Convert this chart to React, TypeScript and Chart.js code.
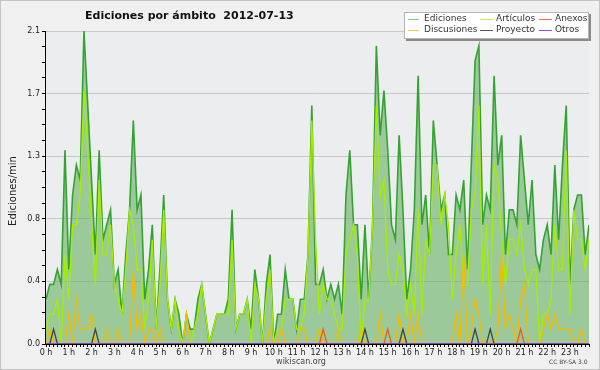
import React, { useEffect, useRef } from 'react';
import { Chart, registerables } from 'chart.js';

Chart.register(...registerables);

const TITLE = 'Ediciones por ámbito  2012-07-13';
const Y_LABEL = 'Ediciones/min';
const FOOTER = 'wikiscan.org';
const LICENSE = 'CC BY-SA 3.0';

const HOUR_LABELS = ['0 h', '1 h', '2 h', '3 h', '4 h', '5 h', '6 h', '7 h', '8 h', '9 h', '10 h', '11 h',
  '12 h', '13 h', '14 h', '15 h', '16 h', '17 h', '18 h', '19 h', '20 h', '21 h', '22 h', '23 h'];

const Y_MAJOR_TICKS = [0, 0.42, 0.84, 1.26, 1.68, 2.1];

// edits per minute, one value every 10 minutes (144 slots)
const EDICIONES = [
  0.3, 0.4, 0.4, 0.5, 0.4, 1.3, 0.5, 1.0, 1.2, 1.1, 2.1, 1.6,
  1.1, 0.6, 1.3, 0.7, 0.8, 0.9, 0.4, 0.5, 0.2, 0.6, 0.9, 1.5,
  0.9, 1.0, 0.3, 0.5, 0.8, 0.1, 0.5, 1.0, 0.3, 0.1, 0.3, 0.2,
  0.0, 0.2, 0.1, 0.1, 0.3, 0.4, 0.2, 0.0, 0.1, 0.2, 0.2, 0.2,
  0.3, 0.9, 0.1, 0.2, 0.2, 0.3, 0.1, 0.5, 0.3, 0.0, 0.4, 0.6,
  0.0, 0.2, 0.2, 0.5, 0.3, 0.3, 0.1, 0.3, 0.3, 0.6, 1.6, 0.4,
  0.4, 0.5, 0.3, 0.4, 0.3, 0.4, 0.2, 1.0, 1.3, 0.8, 0.8, 0.3,
  0.8, 0.3, 0.8, 2.0, 1.4, 1.7, 1.3, 0.8, 0.7, 1.4, 0.9, 0.3,
  0.5, 0.9, 1.8, 0.8, 1.0, 0.6, 1.5, 1.2, 0.9, 1.0, 0.6, 0.6,
  1.0, 0.9, 1.1, 0.5, 1.2, 1.9, 2.0, 0.8, 1.0, 0.9, 1.8, 1.2,
  1.4, 0.6, 0.9, 0.9, 0.8, 1.4, 1.1, 0.8, 1.1, 0.6, 0.5, 0.7,
  0.8, 0.6, 1.2, 0.7, 1.2, 1.6, 0.4, 0.9, 1.0, 1.0, 0.6, 0.8,
];

const ARTICULOS = [
  0.1, 0.2, 0.2, 0.3, 0.0, 0.6, 0.3, 0.8, 0.8, 1.0, 1.7, 1.3,
  0.8, 0.4, 1.1, 0.6, 0.6, 0.8, 0.4, 0.3, 0.2, 0.5, 0.9, 0.8,
  0.5, 0.5, 0.1, 0.3, 0.7, 0.1, 0.4, 0.9, 0.3, 0.1, 0.3, 0.1,
  0.0, 0.2, 0.0, 0.1, 0.2, 0.4, 0.2, 0.0, 0.1, 0.2, 0.2, 0.2,
  0.2, 0.7, 0.1, 0.2, 0.2, 0.3, 0.0, 0.4, 0.3, 0.0, 0.3, 0.5,
  0.0, 0.1, 0.1, 0.3, 0.3, 0.3, 0.1, 0.1, 0.2, 0.6, 1.5, 0.7,
  0.2, 0.4, 0.3, 0.3, 0.2, 0.1, 0.1, 0.6, 0.7, 0.8, 0.6, 0.0,
  0.3, 0.3, 0.8, 1.6, 1.0, 1.1, 0.5, 0.4, 0.4, 0.6, 0.5, 0.2,
  0.4, 0.2, 0.9, 0.2, 0.7, 0.6, 1.2, 1.2, 0.8, 1.0, 0.8, 0.3,
  0.6, 0.8, 0.4, 0.4, 0.9, 1.0, 1.6, 0.4, 0.8, 0.2, 1.2, 1.1,
  0.7, 0.4, 0.7, 0.7, 0.6, 0.8, 0.5, 0.4, 0.5, 0.5, 0.0, 0.2,
  0.2, 0.3, 0.8, 0.5, 0.5, 1.3, 0.2, 0.9, 0.7, 0.7, 0.5, 0.7,
];

const DISCUSIONES = [
  0.0, 0.1, 0.0, 0.0, 0.0, 0.0, 0.2, 0.0, 0.3, 0.1, 0.1, 0.1,
  0.2, 0.0, 0.0, 0.0, 0.1, 0.0, 0.0, 0.1, 0.0, 0.0, 0.0, 0.5,
  0.1, 0.2, 0.0, 0.1, 0.1, 0.0, 0.1, 0.0, 0.0, 0.0, 0.0, 0.0,
  0.0, 0.2, 0.0, 0.0, 0.0, 0.0, 0.0, 0.0, 0.0, 0.0, 0.0, 0.0,
  0.0, 0.0, 0.0, 0.0, 0.0, 0.0, 0.0, 0.0, 0.0, 0.0, 0.0, 0.1,
  0.0, 0.0, 0.1, 0.0, 0.0, 0.0, 0.0, 0.1, 0.1, 0.0, 0.0, 0.0,
  0.1, 0.0, 0.0, 0.0, 0.0, 0.1, 0.0, 0.0, 0.0, 0.0, 0.0, 0.1,
  0.0, 0.0, 0.0, 0.0, 0.2, 0.0, 0.0, 0.0, 0.0, 0.2, 0.0, 0.0,
  0.2, 0.0, 0.2, 0.0, 0.0, 0.0, 0.0, 0.0, 0.0, 0.0, 0.0, 0.0,
  0.2, 0.0, 0.6, 0.0, 0.1, 0.3, 0.2, 0.0, 0.0, 0.0, 0.0, 0.1,
  0.6, 0.1, 0.2, 0.1, 0.0, 0.3, 0.4, 0.0, 0.0, 0.0, 0.0, 0.1,
  0.2, 0.1, 0.2, 0.1, 0.1, 0.1, 0.1, 0.0, 0.0, 0.1, 0.0, 0.0,
];

const ANEXOS = [
  0, 0, 0, 0, 0, 0, 0, 0, 0, 0, 0, 0,
  0, 0, 0, 0, 0, 0, 0, 0, 0, 0, 0, 0,
  0, 0, 0, 0, 0, 0, 0, 0, 0, 0, 0, 0,
  0, 0, 0, 0, 0, 0, 0, 0, 0, 0, 0, 0,
  0, 0, 0, 0, 0, 0, 0, 0, 0, 0, 0, 0,
  0, 0, 0, 0, 0, 0, 0, 0, 0, 0, 0, 0,
  0, 0.1, 0, 0, 0, 0, 0, 0, 0, 0, 0, 0,
  0, 0, 0, 0, 0, 0, 0.1, 0, 0, 0, 0, 0,
  0, 0, 0, 0, 0, 0, 0, 0, 0, 0, 0, 0,
  0, 0, 0, 0, 0, 0, 0, 0, 0, 0, 0, 0,
  0, 0, 0, 0, 0, 0.1, 0, 0, 0, 0, 0, 0,
  0, 0, 0, 0, 0, 0, 0, 0, 0, 0, 0, 0,
];

const PROYECTO = [
  0, 0, 0.1, 0, 0, 0, 0, 0, 0, 0, 0, 0,
  0, 0.1, 0, 0, 0, 0, 0, 0, 0, 0, 0, 0,
  0, 0, 0, 0, 0, 0, 0, 0, 0, 0, 0, 0,
  0, 0, 0, 0, 0, 0, 0, 0, 0, 0, 0, 0,
  0, 0, 0, 0, 0, 0, 0, 0, 0, 0, 0, 0,
  0, 0, 0, 0, 0, 0, 0, 0, 0, 0, 0, 0,
  0, 0, 0, 0, 0, 0, 0, 0, 0, 0, 0, 0,
  0.1, 0, 0, 0, 0, 0, 0, 0, 0, 0, 0.1, 0,
  0, 0, 0, 0, 0, 0, 0, 0, 0, 0, 0, 0,
  0, 0, 0, 0, 0, 0.1, 0, 0, 0, 0.1, 0, 0,
  0, 0, 0, 0, 0, 0, 0, 0, 0, 0, 0, 0,
  0, 0, 0, 0, 0, 0, 0, 0, 0, 0, 0, 0,
];

const OTROS = [
  0, 0, 0, 0, 0, 0, 0, 0, 0, 0, 0, 0,
  0, 0, 0, 0, 0, 0, 0, 0, 0, 0, 0, 0,
  0, 0, 0, 0, 0, 0, 0, 0, 0, 0, 0, 0,
  0, 0, 0, 0, 0, 0, 0, 0, 0, 0, 0, 0,
  0, 0, 0, 0, 0, 0, 0, 0, 0, 0, 0, 0,
  0, 0, 0, 0, 0, 0, 0, 0, 0, 0, 0, 0,
  0, 0, 0, 0, 0, 0, 0, 0, 0, 0, 0, 0,
  0, 0, 0, 0, 0, 0, 0, 0, 0, 0, 0, 0,
  0, 0, 0, 0, 0, 0, 0, 0, 0, 0, 0, 0,
  0, 0, 0, 0, 0, 0, 0, 0, 0, 0, 0, 0,
  0, 0, 0, 0, 0, 0, 0, 0, 0, 0, 0, 0,
  0, 0, 0, 0, 0, 0, 0, 0, 0, 0, 0, 0,
];

const SERIES_NAMES = ['Ediciones', 'Artículos', 'Anexos', 'Discusiones', 'Proyecto', 'Otros'];
const LINE_COLORS = ['#35a332', '#a6ee00', '#ee5a18', '#f2bc00', '#444444', '#9a34e6'];
const LEGEND_COLORS = ['#7ccf7c', '#c6ee44', '#ee7444', '#f4c844', '#555555', '#9a44ee'];

const FONT = '"DejaVu Sans", sans-serif';

const toPoints = (vals: number[]) => vals.map((v, i) => ({ x: i, y: v }));

const decoPlugin = {
  id: 'deco',
  beforeDraw(chart: any) {
    const { ctx, chartArea: a, width, height } = chart;
    ctx.save();
    ctx.fillStyle = '#f0f0f0';
    ctx.fillRect(0, 0, width, height);
    ctx.strokeStyle = '#c4c4c4';
    ctx.lineWidth = 1;
    ctx.strokeRect(0.5, 0.5, width - 1, height - 1);
    ctx.fillStyle = '#ecedef';
    ctx.fillRect(a.left, a.top, a.right - a.left, a.bottom - a.top);
    ctx.restore();
  },
  afterDraw(chart: any) {
    const { ctx, chartArea: a } = chart;
    ctx.save();
    // axis lines
    ctx.strokeStyle = '#000';
    ctx.lineWidth = 1;
    ctx.beginPath();
    ctx.moveTo(Math.round(a.left) - 0.5, a.top);
    ctx.lineTo(Math.round(a.left) - 0.5, Math.round(a.bottom) + 0.5);
    ctx.lineTo(a.right, Math.round(a.bottom) + 0.5);
    ctx.stroke();

    // title
    ctx.fillStyle = '#111';
    ctx.font = 'bold 11px ' + FONT;
    ctx.textAlign = 'left';
    ctx.textBaseline = 'alphabetic';
    ctx.fillText(TITLE, 85, 19);

    // y label
    ctx.save();
    ctx.translate(13, 191);
    ctx.rotate(-Math.PI / 2);
    ctx.textAlign = 'center';
    ctx.textBaseline = 'middle';
    ctx.font = '10px ' + FONT;
    ctx.fillStyle = '#222';
    ctx.fillText(Y_LABEL, 0, 0);
    ctx.restore();

    // legend box with drop shadow
    ctx.fillStyle = '#8a8a8a';
    ctx.fillRect(406, 14, 185, 27);
    ctx.fillStyle = '#ffffff';
    ctx.fillRect(404, 12, 185, 27);
    ctx.strokeStyle = '#b4b4b4';
    ctx.lineWidth = 1;
    ctx.strokeRect(404.5, 12.5, 184, 26);

    const sampleX = [[408, 419], [480, 493], [539, 552]];
    const textX = [424, 496, 555];
    const rowY = [19, 29.5];
    ctx.font = '9px ' + FONT;
    ctx.textAlign = 'left';
    ctx.textBaseline = 'middle';
    SERIES_NAMES.forEach((name, k) => {
      const col = k % 3;
      const row = Math.floor(k / 3);
      const y = rowY[row];
      ctx.strokeStyle = LEGEND_COLORS[k];
      ctx.lineWidth = 1;
      ctx.beginPath();
      ctx.moveTo(sampleX[col][0], Math.round(y) + 0.5);
      ctx.lineTo(sampleX[col][1], Math.round(y) + 0.5);
      ctx.stroke();
      ctx.fillStyle = '#333';
      ctx.fillText(name, textX[col], y);
    });

    // footer
    ctx.fillStyle = '#444';
    ctx.font = '8px ' + FONT;
    ctx.textAlign = 'center';
    ctx.textBaseline = 'middle';
    ctx.fillText(FOOTER, 301, 362);
    ctx.font = '6px ' + FONT;
    ctx.textAlign = 'left';
    ctx.fillText(LICENSE, 549, 362.5);
    ctx.restore();
  },
};

export default function App() {
  const ref = useRef<HTMLCanvasElement | null>(null);

  useEffect(() => {
    if (!ref.current) return;
    const seriesValues = [EDICIONES, ARTICULOS, ANEXOS, DISCUSIONES, PROYECTO, OTROS];
    const drawOrder = [6, 5, 3, 4, 2, 1];
    const datasets = seriesValues.map((vals, k) => ({
      label: SERIES_NAMES[k],
      data: toPoints(vals),
      borderColor: LINE_COLORS[k],
      borderWidth: k === 0 ? 1.6 : 1.3,
      backgroundColor: k === 0 ? 'rgba(74, 166, 68, 0.5)' : 'transparent',
      fill: k === 0 ? 'origin' : false,
      pointRadius: 0,
      tension: 0,
      order: drawOrder[k],
    }));

    const chart = new Chart(ref.current, {
      type: 'line',
      data: { datasets },
      plugins: [decoPlugin],
      options: {
        animation: false,
        responsive: false,
        devicePixelRatio: 1,
        layout: { padding: { left: 0, right: 11, top: 31, bottom: 0 } },
        plugins: { legend: { display: false }, title: { display: false }, tooltip: { enabled: false } },
        scales: {
          x: {
            type: 'linear',
            min: 0,
            max: EDICIONES.length - 1,
            afterBuildTicks: (scale: any) => {
              scale.ticks = EDICIONES.map((_, i) => ({ value: i }));
            },
            afterFit: (scale: any) => {
              scale.height = 26;
            },
            ticks: {
              autoSkip: false,
              maxRotation: 0,
              minRotation: 0,
              padding: 1,
              color: '#222',
              font: { family: FONT, size: 8 },
              callback: (_v: any, index: number) => (index % 6 === 0 ? HOUR_LABELS[index / 6] : ''),
            },
            grid: { drawOnChartArea: false, drawTicks: true, tickLength: 3, tickColor: '#000', tickWidth: 1 },
            border: { display: false },
          },
          y: {
            type: 'linear',
            min: 0,
            max: 2.1,
            afterBuildTicks: (scale: any) => {
              const t: { value: number }[] = [];
              for (let m = 0; m < Y_MAJOR_TICKS.length; m++) {
                t.push({ value: Y_MAJOR_TICKS[m] });
                if (m < Y_MAJOR_TICKS.length - 1) {
                  const step = (Y_MAJOR_TICKS[m + 1] - Y_MAJOR_TICKS[m]) / 4;
                  for (let s = 1; s < 4; s++) t.push({ value: Y_MAJOR_TICKS[m] + step * s });
                }
              }
              scale.ticks = t;
            },
            afterFit: (scale: any) => {
              scale.width = 46;
            },
            ticks: {
              padding: 2,
              color: '#222',
              font: { family: FONT, size: 8 },
              callback: (v: any, index: number) => (index % 4 === 0 ? Number(v).toFixed(1) : ''),
            },
            grid: {
              color: (c: any) => (c.index % 4 === 0 ? '#c8c8c8' : 'rgba(0,0,0,0)'),
              lineWidth: 1,
              drawTicks: true,
              tickLength: 4,
              tickColor: '#000',
            },
            border: { display: false },
          },
        },
      },
    });
    return () => chart.destroy();
  }, []);

  return (
    <div style={{ position: 'absolute', left: 0, top: 0, width: 600, height: 370 }}>
      <canvas ref={ref} width={600} height={370} style={{ display: 'block', width: 600, height: 370 }} />
    </div>
  );
}
